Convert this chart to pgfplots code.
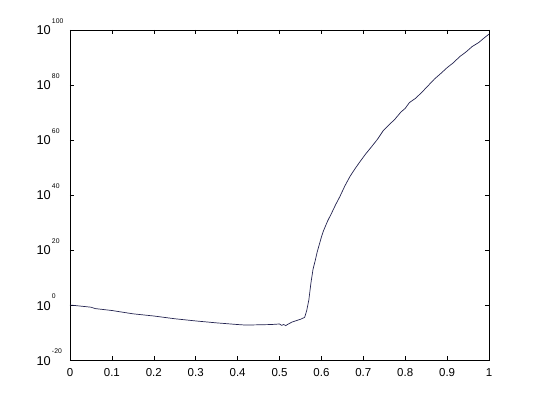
\documentclass[border=0pt]{standalone}
\usepackage{pgfplots}
\pgfplotsset{compat=1.18}
\usepackage{fontspec}
\setmainfont{Liberation Sans}
\newcommand{\tl}[1]{10\rlap{\hspace{1.2pt}\raisebox{11.7pt}{\fontsize{6.8}{7}\selectfont #1}}}
\begin{document}
\begin{tikzpicture}[x=1pt,y=1pt]
\path (-70,-44) rectangle (470,360);
\begin{axis}[
  at={(0,0)}, anchor=south west,
  scale only axis, width=419pt, height=330pt,
  xmin=0, xmax=1, ymode=log, ymin=1e-20, ymax=1e100,
  axis line style={line width=0.7pt},
  tick align=inside, major tick length=4pt,
  every tick/.style={black, line width=0.6pt},
  xtick={0,0.1,0.2,0.3,0.4,0.5,0.6,0.7,0.8,0.9,1},
  xticklabels={0,0.1,0.2,0.3,0.4,0.5,0.6,0.7,0.8,0.9,1},
  ytick={1e-20,1e0,1e20,1e40,1e60,1e80,1e100},
  yticklabels={\tl{-20},\tl{0},\tl{20},\tl{40},\tl{60},\tl{80},\tl{100}},
  yminorticks=false,
  xticklabel style={font=\fontsize{11.5}{12}\selectfont, anchor=base, inner sep=0pt, yshift=-16.7pt},
  yticklabel style={font=\fontsize{12.8}{13}\selectfont, anchor=base east, inner sep=0pt, xshift=-19pt, yshift=-5pt},
]
\addplot[color={rgb,255:red,35;green,35;blue,80}, line width=0.7pt, mark=none] coordinates {
(0,1) (0.05,1.6e-1) (0.06,5e-2) (0.1,1e-2) (0.15,6.3e-4) (0.2,1e-4)
(0.25,1e-5) (0.3,1.6e-6) (0.35,3.16e-7) (0.4,7.9e-8) (0.42,5e-8)
(0.45,6.3e-8) (0.48,7.9e-8) (0.50,1.26e-7) (0.505,4e-8) (0.51,7.9e-8)
(0.515,3.16e-8) (0.52,1e-7) (0.53,6.3e-7) (0.55,6.3e-6) (0.56,3.16e-5)
(0.565,1e-2) (0.570,63) (0.575,1e8) (0.58,1e13) (0.585,1e16)
(0.59,2e19) (0.595,1e22) (0.60,5e24) (0.605,1e27) (0.615,3.98e30) (0.624,2e33)
(0.634,3.16e36) (0.644,2.51e39) (0.656,2e43) (0.668,5e46) (0.68,3.16e49)
(0.692,1.26e52) (0.706,1e55) (0.72,3.98e57) (0.734,2e60) (0.748,3.16e63)
(0.76,2e65) (0.775,3.16e67) (0.79,1.58e70) (0.80,3.16e71) (0.81,3.98e73)
(0.825,1.58e75) (0.84,2.51e77) (0.855,6.31e79) (0.87,1.58e82) (0.885,1.58e84)
(0.90,2e86) (0.915,1.26e88) (0.93,2e90) (0.945,1e92) (0.96,1e94)
(0.975,2.51e95) (0.99,2e97) (1.0,3.16e98)
};
\end{axis}
\end{tikzpicture}
\end{document}
